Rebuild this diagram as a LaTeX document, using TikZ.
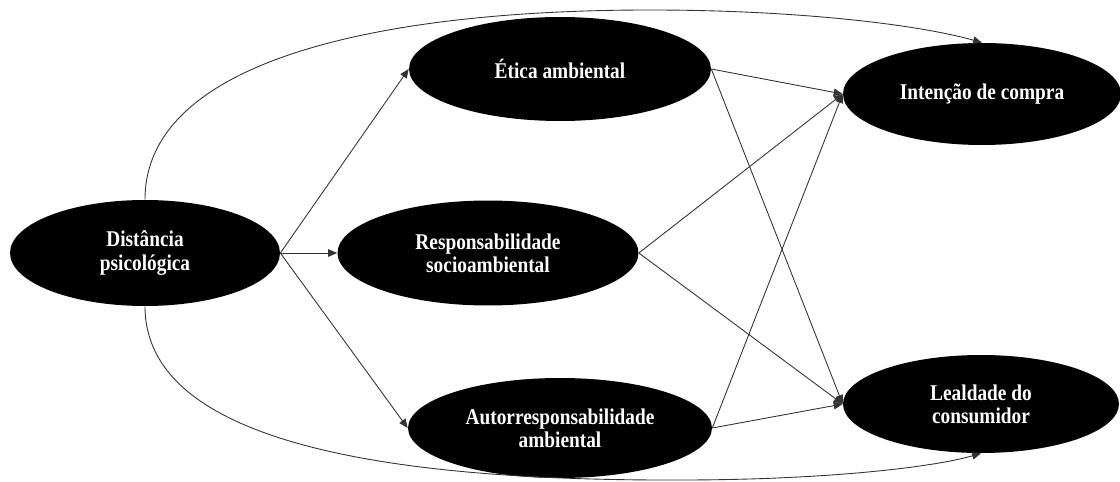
\documentclass[tikz,border=0pt]{standalone}
\usepackage{fontspec}
\setmainfont{Liberation Serif}
\newfontfamily\labelfont[FakeStretch=0.86]{Liberation Serif}
\usetikzlibrary{shapes.geometric,arrows.meta}

\begin{document}
\begin{tikzpicture}[x=0.02cm,y=0.02cm,
  construct/.style={ellipse,fill=black,text=white,inner sep=0pt,align=center,
    font=\labelfont\fontsize{12.8}{13.2}\selectfont\bfseries},
  link/.style={draw=black!80,line width=0.5pt,-{Triangle[length=1.8mm,width=1.5mm]}}]

  % Fix the frame of the picture
  \useasboundingbox (0,0) rectangle (1120,481);

  % The constructs of the model
  \node[construct,minimum width=5.4cm,minimum height=2.12cm] (dist) at (145,228) {Distância\\psicológica};
  \node[construct,minimum width=6.04cm,minimum height=2.08cm] (etica) at (560,412) {Ética ambiental};
  \node[construct,minimum width=6.02cm,minimum height=2.1cm] (resp) at (488,228) {Responsabilidade\\socioambiental};
  \node[construct,minimum width=6.08cm,minimum height=2cm] (auto) at (560,53) {Autorresponsabilidade\\ambiental};
  \node[construct,minimum width=5.56cm,minimum height=2.04cm] (intencao) at (982,387) {Intenção de compra};
  \node[construct,minimum width=5.52cm,minimum height=1.96cm] (lealdade) at (981,77) {Lealdade do\\consumidor};

  % Paths from the psychological distance
  \draw[link] (dist.east) -- (etica.west);
  \draw[link] (dist.east) -- (resp.west);
  \draw[link] (dist.east) -- (auto.west);

  % Paths from the mediators to the outcomes
  \draw[link] (etica.east) -- (intencao.west);
  \draw[link] (etica.east) -- (lealdade.west);
  \draw[link] (resp.east) -- (intencao.west);
  \draw[link] (resp.east) -- (lealdade.west);
  \draw[link] (auto.east) -- (intencao.west);
  \draw[link] (auto.east) -- (lealdade.west);

  % Direct effects, drawn as long arcs over and under the model
  \draw[link] (dist.north) .. controls (145,421) and (380,471) .. (650,471)
    .. controls (800,471) and (920,456) .. (intencao.north);
  \draw[link] (dist.south) .. controls (145,40) and (380,0) .. (680,1)
    .. controls (820,1) and (930,13) .. (lealdade.south);

\end{tikzpicture}
\end{document}
